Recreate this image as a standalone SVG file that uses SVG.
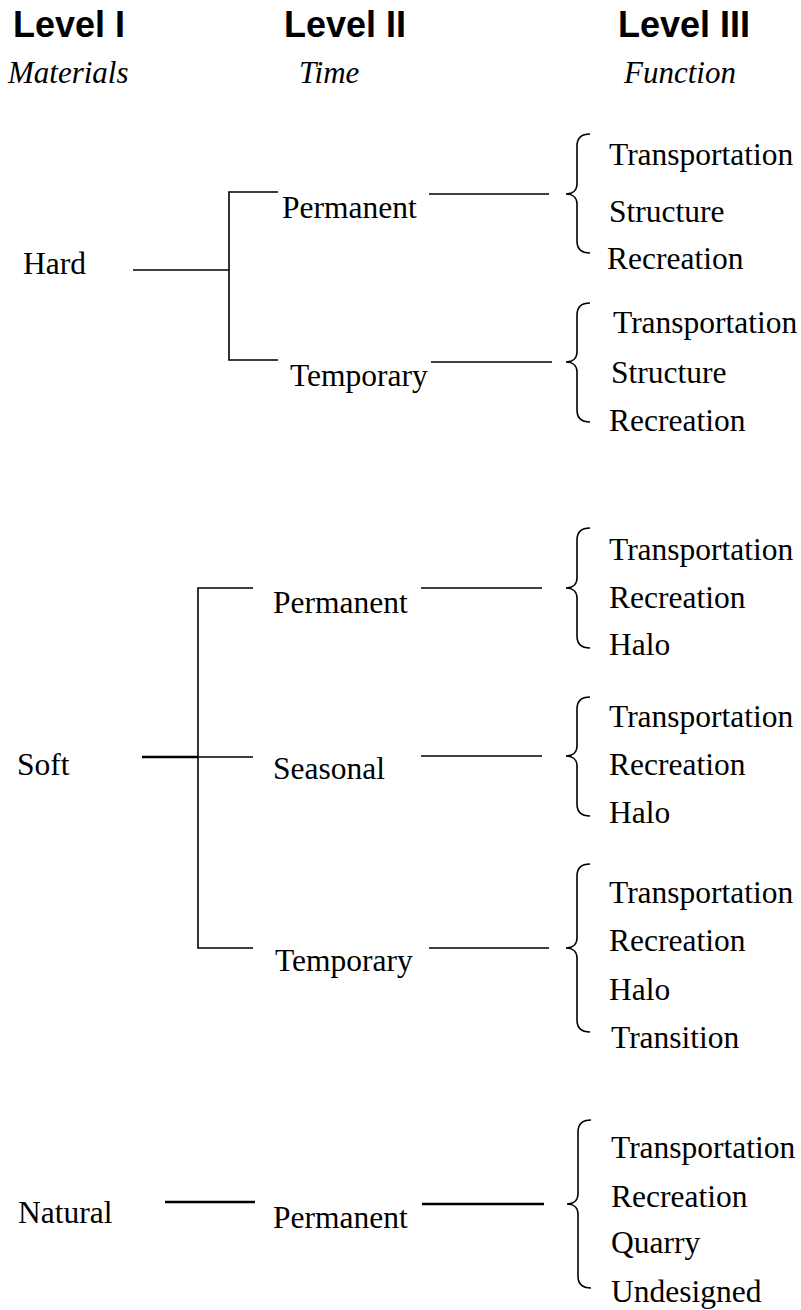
<svg xmlns="http://www.w3.org/2000/svg" width="801" height="1310" viewBox="0 0 801 1310">
<style>
.hd{font-family:"Liberation Sans",Arial,sans-serif;font-weight:bold;font-size:36px;fill:#000}
.sub{font-family:"Liberation Serif","Times New Roman",serif;font-style:italic;font-size:31px;fill:#000}
.t{font-family:"Liberation Serif","Times New Roman",serif;font-size:31.5px;fill:#000}
.ln{stroke:#000;stroke-width:1.6;fill:none}
.thick{stroke-width:2.4}
</style>
<rect width="801" height="1310" fill="#fff"/>
<g id="headers">
<text class="hd" x="13" y="37">Level I</text>
<text class="hd" x="284" y="37">Level II</text>
<text class="hd" x="618" y="37">Level III</text>
<text class="sub" x="8" y="83">Materials</text>
<text class="sub" x="299" y="83">Time</text>
<text class="sub" x="624" y="83">Function</text>
</g>
<g id="connectors">
<line class="ln" x1="133" y1="270" x2="229" y2="270"/>
<polyline class="ln" points="278,192 229,192 229,360 278,360"/>
<line class="ln" x1="429" y1="194" x2="549" y2="194"/>
<line class="ln" x1="431" y1="362" x2="552" y2="362"/>
<line class="ln thick" x1="142" y1="757" x2="198" y2="757"/>
<polyline class="ln" points="253,588 198,588 198,948 253,948"/>
<line class="ln" x1="198" y1="757" x2="253" y2="757"/>
<line class="ln" x1="421" y1="588" x2="542" y2="588"/>
<line class="ln" x1="421" y1="756" x2="542" y2="756"/>
<line class="ln" x1="429" y1="948" x2="549" y2="948"/>
<line class="ln thick" x1="165" y1="1202" x2="255" y2="1202"/>
<line class="ln thick" x1="422" y1="1204" x2="544" y2="1204"/>
<path class="ln" d="M590,134 C581,134 577,138 577,146 L577,184 C577,190 573,194 566,194 C573,194 577,198 577,204 L577,241 C577,249 581,253 590,253"/>
<path class="ln" d="M590,303 C581,303 577,307 577,315 L577,352 C577,358 573,362 566,362 C573,362 577,366 577,372 L577,410 C577,418 581,422 590,422"/>
<path class="ln" d="M590,528 C581,528 577,532 577,540 L577,578 C577,584 573,588 566,588 C573,588 577,592 577,598 L577,636 C577,644 581,648 590,648"/>
<path class="ln" d="M590,697 C581,697 577,701 577,709 L577,746 C577,752 573,756 566,756 C573,756 577,760 577,766 L577,804 C577,812 581,816 590,816"/>
<path class="ln" d="M590,864 C581,864 577,868 577,876 L577,938 C577,944 573,948 566,948 C573,948 577,952 577,958 L577,1020 C577,1028 581,1032 590,1032"/>
<path class="ln" d="M591,1120 C582,1120 578,1124 578,1132 L578,1194 C578,1200 574,1204 567,1204 C574,1204 578,1208 578,1214 L578,1276 C578,1284 582,1288 591,1288"/>
</g>
<g id="hard"><text class="t" x="23" y="274">Hard</text></g>
<g id="hard-permanent"><text class="t" x="282" y="218">Permanent</text></g>
<g id="hard-temporary"><text class="t" x="290" y="386">Temporary</text></g>
<g id="hard-permanent-functions">
<text class="t" x="609" y="165">Transportation</text>
<text class="t" x="609" y="222">Structure</text>
<text class="t" x="607" y="269">Recreation</text>
</g>
<g id="hard-temporary-functions">
<text class="t" x="613" y="333">Transportation</text>
<text class="t" x="611" y="383">Structure</text>
<text class="t" x="609" y="431">Recreation</text>
</g>
<g id="soft"><text class="t" x="17" y="775">Soft</text></g>
<g id="soft-permanent"><text class="t" x="273" y="613">Permanent</text></g>
<g id="soft-seasonal"><text class="t" x="273" y="779">Seasonal</text></g>
<g id="soft-temporary"><text class="t" x="275" y="971">Temporary</text></g>
<g id="soft-permanent-functions">
<text class="t" x="609" y="560">Transportation</text>
<text class="t" x="609" y="608">Recreation</text>
<text class="t" x="609" y="655">Halo</text>
</g>
<g id="soft-seasonal-functions">
<text class="t" x="609" y="727">Transportation</text>
<text class="t" x="609" y="775">Recreation</text>
<text class="t" x="609" y="823">Halo</text>
</g>
<g id="soft-temporary-functions">
<text class="t" x="609" y="903">Transportation</text>
<text class="t" x="609" y="951">Recreation</text>
<text class="t" x="609" y="1000">Halo</text>
<text class="t" x="611" y="1048">Transition</text>
</g>
<g id="natural"><text class="t" x="18" y="1223">Natural</text></g>
<g id="natural-permanent"><text class="t" x="273" y="1228">Permanent</text></g>
<g id="natural-permanent-functions">
<text class="t" x="611" y="1158">Transportation</text>
<text class="t" x="611" y="1207">Recreation</text>
<text class="t" x="611" y="1253">Quarry</text>
<text class="t" x="611" y="1302">Undesigned</text>
</g>
</svg>
